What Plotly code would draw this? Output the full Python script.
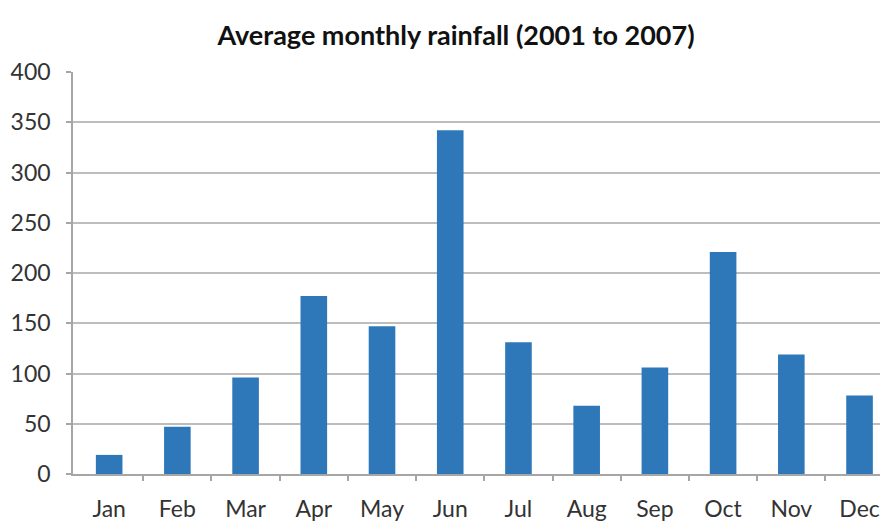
import plotly.graph_objects as go

months = ["Jan", "Feb", "Mar", "Apr", "May", "Jun", "Jul", "Aug", "Sep", "Oct", "Nov", "Dec"]
rainfall = [19, 47, 96, 177, 147, 342, 131, 68, 106, 221, 119, 78]
y_ticks = [0, 50, 100, 150, 200, 250, 300, 350, 400]
title_text = "Average monthly rainfall (2001 to 2007)"

W, H = 880, 525
L, R, T, B = 73, 0, 72, 51
x_lo, x_hi = -0.53, 11.30
boundaries = [i + 0.5 for i in range(len(months) - 1)]

fig = go.Figure()
fig.add_trace(go.Bar(x=months, y=rainfall, marker=dict(color="#2E78B9", line=dict(width=0)),
                     showlegend=False, hoverinfo="x+y"))
# invisible trace on the boundary axis so it is drawn
fig.add_trace(go.Scatter(x=boundaries, y=[0] * len(boundaries), xaxis="x2", mode="markers",
                         marker=dict(opacity=0), showlegend=False, hoverinfo="skip"))

font = "Lato, 'Open Sans', sans-serif"
fig.update_layout(
    width=W, height=H,
    margin=dict(l=L, r=R, t=T, b=B, autoexpand=False),
    paper_bgcolor="white", plot_bgcolor="white",
    bargap=0.61,
    title=dict(text="<b>" + title_text + "</b>", x=456 / W, xref="container", xanchor="center",
               y=1 - 36 / H, yref="container", yanchor="middle",
               font=dict(family=font, size=27, color="#111111")),
    xaxis=dict(type="category", range=[x_lo, x_hi], showgrid=False, showline=False,
               ticks="", tickfont=dict(family=font, size=23, color="#333333"),
               ticklabelstandoff=19, zeroline=False, fixedrange=True, automargin=False),
    xaxis2=dict(overlaying="x", anchor="y", side="bottom", range=[x_lo, x_hi],
                tickvals=boundaries, ticktext=[""] * len(boundaries), ticks="outside",
                ticklen=5, tickcolor="#A6A6A6", tickwidth=1.5, showgrid=False,
                showline=True, linecolor="#A6A6A6", linewidth=1.5, zeroline=False,
                automargin=False),
    yaxis=dict(range=[0, 400], tickvals=y_ticks, showgrid=True, gridcolor="#BDBDBD", gridwidth=1.7,
               showline=True, linecolor="#A6A6A6", linewidth=1.5, ticks="outside", ticklen=5,
               tickcolor="#A6A6A6", tickwidth=1.5, zeroline=False,
               ticklabelstandoff=11, automargin=False,
               tickfont=dict(family=font, size=23, color="#333333")),
)

fig.write_html("out.html")
